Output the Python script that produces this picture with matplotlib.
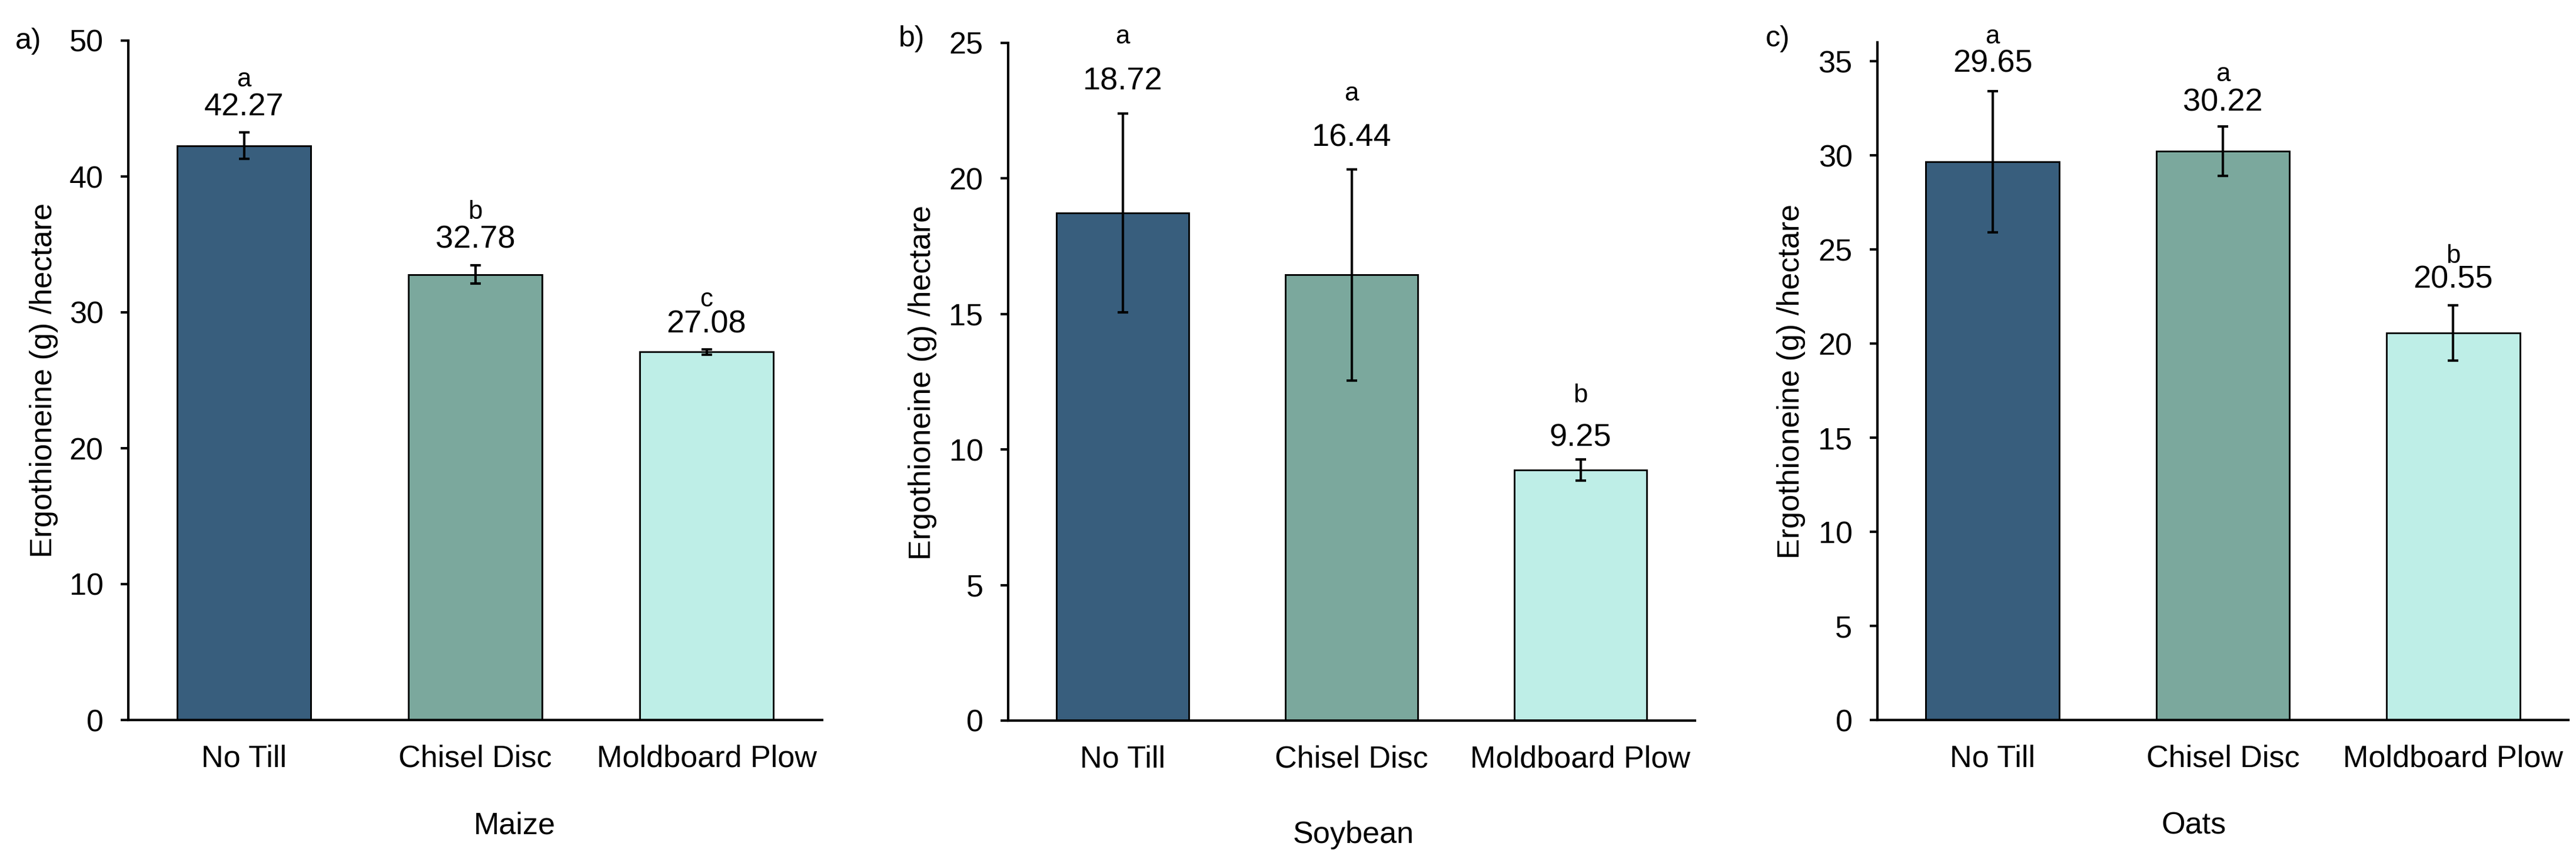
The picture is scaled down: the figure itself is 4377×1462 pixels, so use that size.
import matplotlib
matplotlib.use('Agg')
import matplotlib.pyplot as plt

plt.rcParams['font.family'] = ['Liberation Sans', 'DejaVu Sans']

# data
treatments = ['No Till', 'Chisel Disc', 'Moldboard Plow']
crops = ['Maize', 'Soybean', 'Oats']
panel_tags = ['a)', 'b)', 'c)']

maize_mean = [42.27, 32.78, 27.08]
maize_err = [0.98, 0.67, 0.18]
maize_letters = ['a', 'b', 'c']

soy_mean = [18.72, 16.44, 9.25]
soy_err = [3.67, 3.90, 0.39]
soy_letters = ['a', 'a', 'b']

oats_mean = [29.65, 30.22, 20.55]
oats_err = [3.75, 1.30, 1.47]
oats_letters = ['a', 'a', 'b']

y_max = [50, 25, 36]
y_step = [10, 5, 5]
y_top_tick = [50, 25, 35]

colors = ['#385E7D', '#7BA89D', '#BEEEE7']

# layout in pixels (left, right, top, bottom)
W, H = 4377, 1462
DPI = 300
rects = [(218, 1397, 69, 1224), (1713, 2880, 73, 1225), (3190, 4364, 72, 1224)]
# label offsets above error bar top, in pixels (value, letter)
value_off = [[43, 44, 43], [55, 53, 36], [47, 41, 44]]
letter_off = [[89, 91, 85], [131, 128, 108], [93, 89, 84]]
tag_pos = [(48, 70), (1549, 66), (3021, 66)]
ylab_pos = [(75, 646), (1568, 650), (3044, 648)]
xlab_pos = [(874, 1404), (2300, 1420), (3728, 1404)]

means = [maize_mean, soy_mean, oats_mean]
errs = [maize_err, soy_err, oats_err]
letters = [maize_letters, soy_letters, oats_letters]

fig = plt.figure(figsize=(W / DPI, H / DPI), dpi=DPI)

def px(x, y):
    return x / W, 1 - y / H

for i in range(3):
    l, r, t, b = rects[i]
    ax = fig.add_axes([l / W, 1 - b / H, (r - l) / W, (b - t) / H])
    x = list(range(len(treatments)))
    ax.bar(x, means[i], width=0.58, color=colors, edgecolor='black', linewidth=0.7, zorder=2)
    ax.errorbar(x, means[i], yerr=errs[i], fmt='none', ecolor='black', elinewidth=1.0,
                capsize=2.2, capthick=1.0, zorder=3)
    ax.set_xlim(-0.5, 2.5)
    ax.set_ylim(0, y_max[i])
    ax.set_yticks(range(0, y_top_tick[i] + 1, y_step[i]))
    ax.set_xticks(x)
    ax.set_xticklabels(treatments)
    ax.tick_params(axis='x', length=0, pad=10, labelsize=12.5)
    ax.tick_params(axis='y', length=3.2, width=1.0, pad=7, labelsize=12.5)
    for s in ['top', 'right']:
        ax.spines[s].set_visible(False)
    for s in ['left', 'bottom']:
        ax.spines[s].set_linewidth(1.0)

    for j in range(3):
        top = means[i][j] + errs[i][j]
        ax.annotate(f'{means[i][j]:.2f}', (x[j], top), xytext=(0, value_off[i][j] * 72 / DPI),
                    textcoords='offset points', ha='center', va='center', fontsize=13)
        ax.annotate(letters[i][j], (x[j], top), xytext=(0, letter_off[i][j] * 72 / DPI),
                    textcoords='offset points', ha='center', va='center', fontsize=10.5)

    fig.text(*px(*tag_pos[i]), panel_tags[i], ha='center', va='center', fontsize=12)
    fig.text(*px(*ylab_pos[i]), 'Ergothioneine (g) /hectare', rotation=90,
             ha='center', va='center', fontsize=12.5)
    fig.text(*px(*xlab_pos[i]), crops[i], ha='center', va='center', fontsize=12.5)

fig.savefig('out.png', dpi=DPI)
